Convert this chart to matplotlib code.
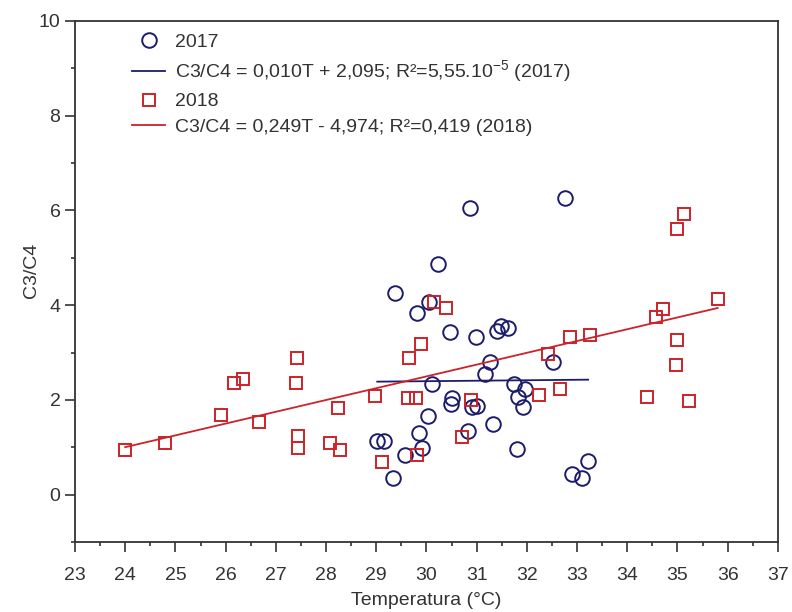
import matplotlib
matplotlib.use("Agg")
import matplotlib.pyplot as plt
import numpy as np

# 2017 samples (circles)
t_2017 = [29.02, 29.16, 29.33, 29.37, 29.57, 29.81, 29.85, 29.91, 30.03, 30.05,
          30.11, 30.23, 30.47, 30.49, 30.51, 30.83, 30.87, 30.91, 30.99, 31.00,
          31.17, 31.27, 31.33, 31.41, 31.49, 31.63, 31.75, 31.80, 31.83, 31.92,
          31.96, 32.52, 32.76, 32.90, 33.10, 33.22]
c_2017 = [1.14, 1.14, 0.36, 4.25, 0.84, 3.83, 1.31, 0.99, 1.67, 4.06,
          2.33, 4.86, 3.43, 1.92, 2.05, 1.35, 6.05, 1.84, 3.32, 1.88,
          2.54, 2.81, 1.50, 3.45, 3.57, 3.51, 2.33, 0.97, 2.07, 1.86,
          2.22, 2.79, 6.26, 0.44, 0.36, 0.72]

# 2018 samples (squares)
t_2018 = [24.00, 24.80, 25.90, 26.17, 26.35, 26.66, 27.40, 27.42, 27.45, 27.45,
          28.08, 28.23, 28.27, 28.98, 29.12, 29.63, 29.65, 29.80, 29.81, 29.90,
          30.15, 30.39, 30.70, 30.89, 32.24, 32.42, 32.66, 32.85, 33.25, 34.39,
          34.57, 34.72, 34.97, 35.00, 35.00, 35.12, 35.23, 35.80]
c_2018 = [0.95, 1.09, 1.68, 2.35, 2.45, 1.54, 2.36, 2.88, 1.23, 0.99,
          1.08, 1.82, 0.95, 2.08, 0.68, 2.03, 2.88, 2.03, 0.83, 3.17,
          4.06, 3.93, 1.22, 2.00, 2.11, 2.97, 2.24, 3.32, 3.38, 2.07,
          3.76, 3.91, 2.73, 3.26, 5.60, 5.92, 1.97, 4.14]

# regression coefficients (slope, intercept) as printed in the legend
fit_2017 = (0.010, 2.095)
fit_2018 = (0.249, -4.974)

label_2017 = "C3/C4 = 0,010T + 2,095; R²=5,55.10$^{\\mathregular{-5}}$ (2017)"
label_2018 = "C3/C4 = 0,249T - 4,974; R²=0,419 (2018)"

blue = "#1c1c6b"
red = "#cc2229"
grey = "#333333"

plt.rcParams["font.family"] = ["Liberation Sans", "DejaVu Sans"]

fig = plt.figure(figsize=(7.92, 6.12), dpi=100)
ax = fig.add_axes([0.0947, 0.1144, 0.8875, 0.8513])

ax.plot(t_2017, c_2017, "o", ls="none", ms=10.5, mfc="none", mec=blue, mew=1.4, label="2017")
x17 = np.array([min(t_2017), max(t_2017)])
ax.plot(x17, fit_2017[0] * x17 + fit_2017[1], color=blue, lw=1.3, label=label_2017)

ax.plot(t_2018, c_2018, "s", ls="none", ms=9, mfc="none", mec=red, mew=1.4, label="2018")
x18 = np.array([min(t_2018), max(t_2018)])
ax.plot(x18, fit_2018[0] * x18 + fit_2018[1], color=red, lw=1.3, label=label_2018)

ax.set_xlim(23, 37)
ax.set_ylim(-1, 10)
ax.set_xticks(np.arange(23, 38, 1))
ax.set_xticks(np.arange(23.5, 37, 1), minor=True)
ax.set_yticks(np.arange(0, 11, 2))
ax.set_yticks(np.arange(-1, 10, 2), minor=True)
ax.tick_params(which="major", direction="out", length=7, width=1.2, labelsize=14, colors=grey)
ax.tick_params(axis="x", which="major", pad=11)
ax.tick_params(which="minor", direction="out", length=3, width=1.2, colors=grey)
for s in ax.spines.values():
    s.set_linewidth(1.3)
    s.set_color(grey)

ax.set_xlabel("Temperatura (°C)", fontsize=14, color=grey, labelpad=6)
ax.set_ylabel("C3/C4", fontsize=14, color=grey)
ax.yaxis.set_label_coords(-0.05, 0.522)

leg = ax.legend(loc="upper left", bbox_to_anchor=(0.07, 0.992), frameon=False,
                fontsize=14, handlelength=1.7, handletextpad=0.5,
                labelspacing=0.4, borderaxespad=0.0)
for t in leg.get_texts():
    t.set_color(grey)

fig.savefig("out.png", dpi=100)
